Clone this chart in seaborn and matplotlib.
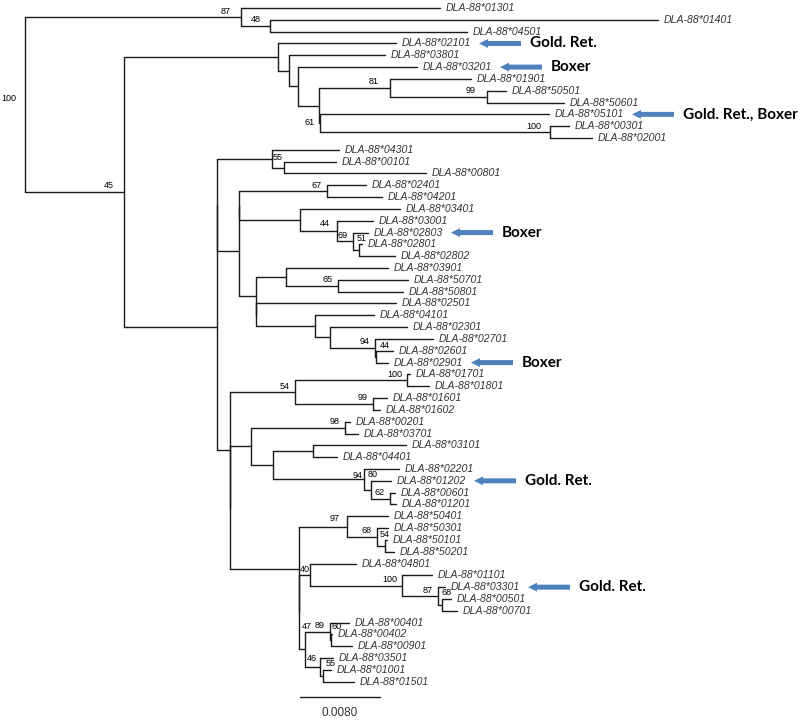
import numpy as np
import pandas as pd
import matplotlib
matplotlib.use("Agg")
import matplotlib.pyplot as plt
import seaborn as sns

# STYLE
sns.set_theme(style="white")
plt.rcParams["font.family"] = ["Liberation Sans", "DejaVu Sans"]

# DATA
# subtrees in newick form: branch lengths in substitutions per site,
# internal node labels are bootstrap support values
TOP_CLADE = "(DLA-88*01301:0.0199,(DLA-88*01401:0.0388,DLA-88*04501:0.0197)48:0.0029)87"

CLADE_B1 = ("(DLA-88*02101:0.0118,(DLA-88*03801:0.0096,(DLA-88*03201:0.0119,"
            "((DLA-88*01901:0.0081,(DLA-88*50501:0.0019,DLA-88*50601:0.0077)99:0.0097)81:0.0071,"
            "(DLA-88*05101:0.0229,(DLA-88*00301:0.0019,DLA-88*02001:0.0042)100:0.0230)61:0.0001)"
            ":0.0021):0.0009):0.0011)")

CLADE_55 = "(DLA-88*04301:0.0067,(DLA-88*00101:0.0052,DLA-88*00801:0.0142):0.0012)55"

CLADE_D2 = ("(((DLA-88*02401:0.0039,DLA-88*04201:0.0055)67:0.0088,"
            "(DLA-88*03401:0.0100,(DLA-88*03001:0.0036,(DLA-88*02803:0.0015,"
            "(DLA-88*02801:0.0003,DLA-88*02802:0.0036)51:0.0006)69:0.0016)44:0.0037):0.0061):0,"
            "((DLA-88*03901:0.0102,(DLA-88*50701:0.0070,DLA-88*50801:0.0065)65:0.0052):0.0030,"
            "(DLA-88*02501:0.0140,(DLA-88*04101:0.0059,(DLA-88*02301:0.0077,"
            "(DLA-88*02701:0.0058,(DLA-88*02601:0.0017,DLA-88*02901:0.0012)44:0.0001)94:0.0045)"
            ":0.0015):0.0059):0):0.0017)")

CLADE_54 = ("((DLA-88*01701:0.0003,DLA-88*01801:0.0022)100:0.0112,"
            "(DLA-88*01601:0.0014,DLA-88*01602:0.0007)99:0.0078)54")

CLADE_Z = ("((DLA-88*00201:0.0005,DLA-88*03701:0.0013)98:0.0094,"
           "((DLA-88*03101:0.0093,DLA-88*04401:0.0024):0.0040,"
           "(DLA-88*02201:0.0035,(DLA-88*01202:0.0020,"
           "(DLA-88*00601:0.0005,DLA-88*01201:0.0006)62:0.0019)80:0.0007)94:0.0091):0.0022)")

CLADE_40 = ("((DLA-88*50401:0.0041,(DLA-88*50301:0.0011,"
            "(DLA-88*50101:0.0002,DLA-88*50201:0.0009)54:0.0008)68:0.0030)97:0.0048,"
            "((DLA-88*04801:0.0046,(DLA-88*01101:0.0030,(DLA-88*03301:0.0007,"
            "(DLA-88*00501:0.0009,DLA-88*00701:0.0015)68:0.0004)87:0.0036)100:0.0092):0.0011,"
            "((DLA-88*00401:0.0019,(DLA-88*00402:0.0001,DLA-88*00901:0.0021)60:0.0001)89:0.0025,"
            "(DLA-88*03501:0.0013,(DLA-88*01001:0.0008,DLA-88*01501:0.0031)55:0.0003)46:0.0015)"
            "47:0.0006):0)40")

CLADE_D = (f"(({CLADE_55}:0.0055,{CLADE_D2}:0.0022):0,"
           f"({CLADE_54}:0.0065,({CLADE_Z}:0.0021,{CLADE_40}:0.0069):0):0.0013)")

TREE = f"({TOP_CLADE}:0.0216,({CLADE_B1}:0.0154,{CLADE_D}:0.0093)45:0.0099)100;"

# breed annotations
MARKED_ALLELES = ["DLA-88*02101", "DLA-88*03201", "DLA-88*05101", "DLA-88*02803",
                  "DLA-88*02901", "DLA-88*01202", "DLA-88*03301"]
MARKED_BREEDS = ["Gold. Ret.", "Boxer", "Gold. Ret., Boxer", "Boxer",
                 "Boxer", "Gold. Ret.", "Gold. Ret."]

SCALE_LEN = 0.0080

# bootstrap label nudges (pixels, right / down) where the default does not fit
LABEL_NUDGE = {
    "100@DLA-88*01301": (-9, -6, "right"),
    "87@DLA-88*01301": (-10, -5, "right"),
    "48@DLA-88*01401": (-9, -6, "right"),
    "81@DLA-88*01901": (-11, -6, "right"),
    "99@DLA-88*50501": (-11, -6, "right"),
    "61@DLA-88*05101": (-5, -1, "right"),
    "100@DLA-88*00301": (-9, -6, "right"),
    "45@DLA-88*02101": (-10, -7, "right"),
    "55@DLA-88*04301": (1, -1, "left"),
    "44@DLA-88*03001": (-7, -8, "right"),
    "51@DLA-88*02801": (-2, -12, "left"),
    "44@DLA-88*02601": (4, -11, "left"),
    "94@DLA-88*02201": (-1, -4, "right"),
    "80@DLA-88*01202": (-3, -15, "left"),
    "40@DLA-88*50401": (1, 0, "left"),
    "97@DLA-88*50401": (-7, -8, "right"),
    "54@DLA-88*50101": (-5, -11, "left"),
    "68@DLA-88*00501": (0, -12, "left"),
    "47@DLA-88*00401": (-3, -23, "left"),
    "60@DLA-88*00402": (1, -14, "left"),
    "46@DLA-88*03501": (-3, -8, "right"),
    "55@DLA-88*01001": (3, -12, "left"),
}

BLUE = "#4F81BD"
PX_X = 1e-4          # branch length per pixel
PX_Y = 1 / 11.82     # leaf rows per pixel


# NEWICK PARSER
def parse_newick(text):
    text = text.strip().rstrip(";")
    pos = 0

    def read_name():
        nonlocal pos
        start = pos
        while pos < len(text) and text[pos] not in "(),:":
            pos += 1
        return text[start:pos]

    def read_node():
        nonlocal pos
        node = {"children": [], "name": "", "length": 0.0}
        if text[pos] == "(":
            pos += 1
            while True:
                node["children"].append(read_node())
                if text[pos] == ",":
                    pos += 1
                    continue
                pos += 1  # ")"
                break
        node["name"] = read_name()
        if pos < len(text) and text[pos] == ":":
            pos += 1
            node["length"] = float(read_name())
        return node

    return read_node()


# LAYOUT
def layout(root):
    leaves = []

    def walk(node, x):
        node["x"] = x + node["length"]
        if not node["children"]:
            node["y"] = float(len(leaves))
            node["first"] = node["name"]
            leaves.append(node)
            return
        for child in node["children"]:
            walk(child, node["x"])
        node["y"] = (node["children"][0]["y"] + node["children"][-1]["y"]) / 2
        node["first"] = node["children"][0]["first"]

    root["length"] = 0.0
    walk(root, 0.0)
    return leaves


def collect_segments(root):
    rows = []
    seg = 0

    def walk(node, parent_x):
        nonlocal seg
        if parent_x is not None:
            rows.append((seg, parent_x, node["y"]))
            rows.append((seg, node["x"], node["y"]))
            seg += 1
        if node["children"]:
            rows.append((seg, node["x"], node["children"][0]["y"]))
            rows.append((seg, node["x"], node["children"][-1]["y"]))
            seg += 1
            for child in node["children"]:
                walk(child, node["x"])

    walk(root, None)
    return pd.DataFrame(rows, columns=["seg", "x", "y"])


def internal_nodes(node):
    if node["children"]:
        yield node
        for child in node["children"]:
            yield from internal_nodes(child)


# PLOT
def plot_tree():
    root = parse_newick(TREE)
    leaves = layout(root)
    segments = collect_segments(root)

    fig = plt.figure(figsize=(8, 7.23), dpi=100)
    ax = fig.add_axes([0, 0, 1, 1])

    sns.lineplot(
        data=segments, x="x", y="y", units="seg", estimator=None, sort=False,
        color="#1a1a1a", linewidth=1.0, legend=False, ax=ax
    )

    # leaf names
    for leaf in leaves:
        ax.annotate(leaf["name"], (leaf["x"], leaf["y"]), xytext=(6, 0),
                    textcoords="offset pixels", ha="left", va="center",
                    fontsize=7.6, style="italic", color="#333333")

    # bootstrap values
    for node in internal_nodes(root):
        if not node["name"]:
            continue
        key = f'{node["name"]}@{node["first"]}'
        dx, dy, ha = LABEL_NUDGE.get(key, (-5, -6, "right"))
        ax.annotate(node["name"], (node["x"], node["y"]), xytext=(dx, -dy),
                    textcoords="offset pixels", ha=ha, va="center",
                    fontsize=6.5, color="black")

    # breed arrows
    by_name = {leaf["name"]: leaf for leaf in leaves}
    for allele, breed in zip(MARKED_ALLELES, MARKED_BREEDS):
        leaf = by_name[allele]
        tip = leaf["x"] + (6 + 77) * PX_X
        tail = tip + 42 * PX_X
        ax.arrow(tail, leaf["y"], tip - tail, 0, width=5 * PX_Y,
                 head_width=9 * PX_Y, head_length=9 * PX_X,
                 length_includes_head=True, color=BLUE, lw=0)
        ax.text(tail + 9 * PX_X, leaf["y"], breed, ha="left", va="center",
                fontsize=11, fontweight="bold", family=["Lato", "DejaVu Sans"],
                color="black")

    # scale bar
    bar_x0 = 0.0275
    bar_y = len(leaves) - 1 + 15 * PX_Y
    ax.plot([bar_x0, bar_x0 + SCALE_LEN], [bar_y, bar_y], color="#1a1a1a", lw=1.0)
    ax.annotate(f"{SCALE_LEN:.4f}", (bar_x0 + SCALE_LEN / 2, bar_y), xytext=(0, -16),
                textcoords="offset pixels", ha="center", va="center",
                fontsize=8.5, color="#333333")

    ax.set_xlim(-25 * PX_X, 775 * PX_X)
    ax.set_ylim((723 - 8) * PX_Y, -8 * PX_Y)
    ax.axis("off")

    fig.savefig("out.png", dpi=100, facecolor="white")
    plt.close(fig)


if __name__ == "__main__":
    plot_tree()
